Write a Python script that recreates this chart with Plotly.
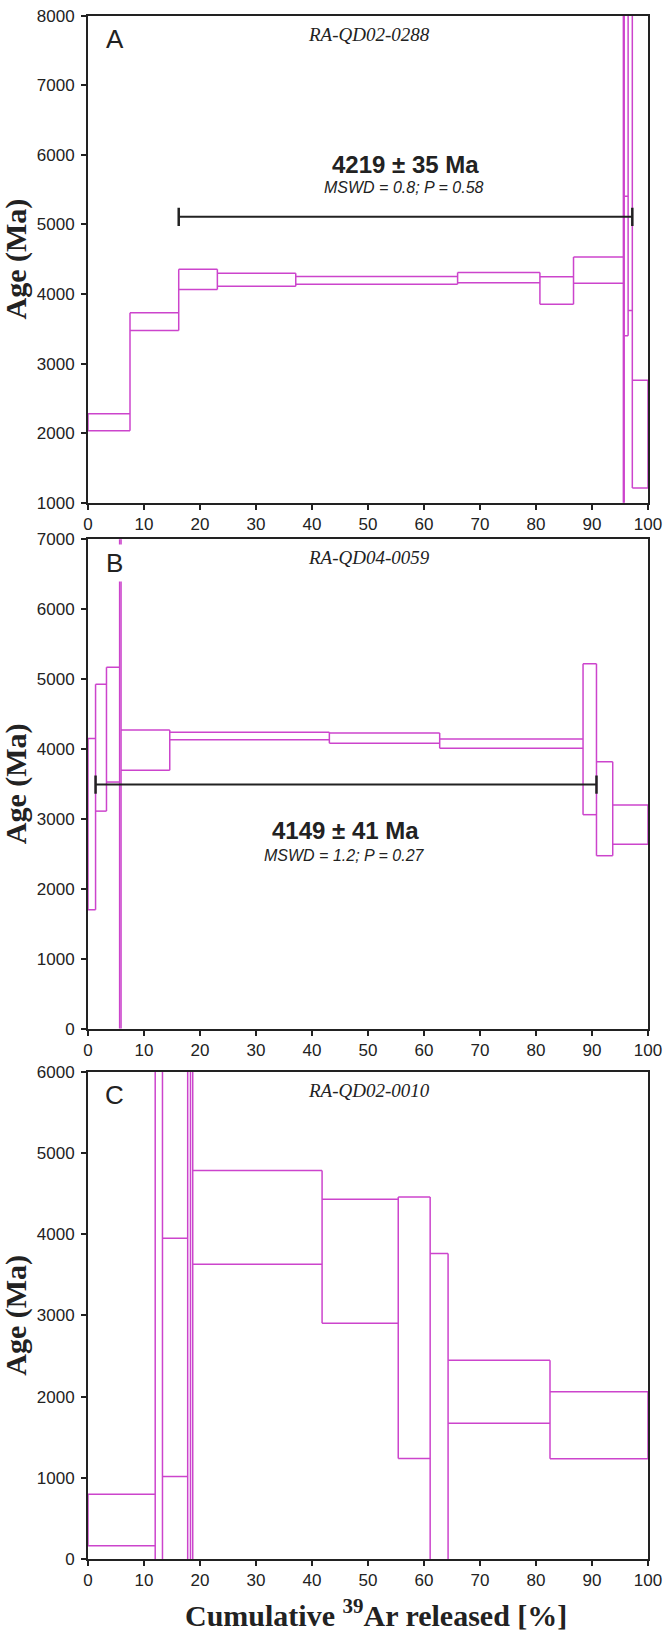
import plotly.graph_objects as go

# ---------------- data ----------------
# Panel A: RA-QD02-0288  (step boundaries in cumulative 39Ar %, ages in Ma)
a_edges = [0, 7.5, 16.2, 23.1, 37.1, 66.0, 80.7, 86.7, 95.6, 95.75, 96.45, 97.2, 100]
a_lo = [2035, 3475, 4067, 4114, 4143, 4162, 3855, 4157, 500, 3400, 3763, 1214]
a_hi = [2280, 3730, 4357, 4300, 4252, 4310, 4248, 4533, 9000, 5406, 9000, 2763]
a_plateau_x = [16.2, 97.2]
a_plateau_y = 5110

# Panel B: RA-QD04-0059
b_edges = [0, 1.35, 3.3, 5.65, 5.9, 14.6, 43.1, 62.8, 88.4, 90.8, 93.7, 100]
b_lo = [1700, 3111, 3527, -500, 3696, 4133, 4081, 4012, 3060, 2473, 2637]
b_hi = [4150, 4927, 5168, 8000, 4270, 4238, 4229, 4142, 5219, 3818, 3200]
b_plateau_x = [1.35, 90.8]
b_plateau_y = 3490

# Panel C: RA-QD02-0010
c_edges = [0, 12.0, 13.3, 17.8, 18.3, 18.7, 41.8, 55.4, 61.1, 64.3, 82.5, 100]
c_lo = [163, -500, 1016, -500, -500, 3630, 2903, 1239, -500, 1671, 1235]
c_hi = [796, 7000, 3951, 7000, 7000, 4785, 4430, 4458, 3764, 2447, 2059]

x_ticks = [0, 10, 20, 30, 40, 50, 60, 70, 80, 90, 100]
y_ranges = [[1000, 8000], [0, 7000], [0, 6000]]
panel_letters = ["A", "B", "C"]
sample_names = ["RA-QD02-0288", "RA-QD04-0059", "RA-QD02-0010"]
plateau_ages = ["4219 ± 35 Ma", "4149 ± 41 Ma"]
plateau_stats = ["MSWD = 0.8; P = 0.58", "MSWD = 1.2; P = 0.27"]

# ---------------- layout helpers ----------------
W, H = 668, 1630
ML, MR, MT, MB = 88, 18, 6, 70
PW = W - ML - MR
PH = H - MT - MB


def px(xpix):
    return (xpix - ML) / PW


def py(ypix):
    return 1 - (ypix - MT) / PH


panel_pix = [(6.7, 496.7), (533.3, 1025.5), (1069.0, 1559.0)]

MAG = "#CC44CC"
INK = "#222222"
SANS = "Liberation Sans, Arial, sans-serif"
SERIF = "Liberation Serif, Times New Roman, serif"


def step_path(edges, lo, hi):
    xs, ys = [], []
    n = len(lo)
    for i in range(n):
        for v in (hi[i], lo[i]):
            xs += [edges[i], edges[i + 1], None]
            ys += [v, v, None]
    for j in range(n + 1):
        adj = [k for k in (j - 1, j) if 0 <= k < n]
        y0 = min(lo[k] for k in adj)
        y1 = max(hi[k] for k in adj)
        xs += [edges[j], edges[j], None]
        ys += [y0, y1, None]
    return xs, ys


fig = go.Figure()
data = [(a_edges, a_lo, a_hi), (b_edges, b_lo, b_hi), (c_edges, c_lo, c_hi)]
plateaus = [(a_plateau_x, a_plateau_y), (b_plateau_x, b_plateau_y)]

for i, (e, lo, hi) in enumerate(data):
    xa = "x" if i == 0 else f"x{i+1}"
    ya = "y" if i == 0 else f"y{i+1}"
    xs, ys = step_path(e, lo, hi)
    fig.add_trace(go.Scatter(x=xs, y=ys, mode="lines", xaxis=xa, yaxis=ya,
                             line=dict(color=MAG, width=1.5), showlegend=False,
                             hoverinfo="skip"))
    if i < 2:
        pxv, pyv = plateaus[i]
        fig.add_trace(go.Scatter(x=pxv, y=[pyv, pyv], mode="lines+markers",
                                 xaxis=xa, yaxis=ya,
                                 line=dict(color=INK, width=2),
                                 marker=dict(symbol="line-ns", size=13,
                                             line=dict(color=INK, width=2.5)),
                                 showlegend=False, hoverinfo="skip"))

layout = dict(width=W, height=H, margin=dict(l=ML, r=MR, t=MT, b=MB),
              plot_bgcolor="white", paper_bgcolor="white", showlegend=False)

annotations = []
for i in range(3):
    top, bot = panel_pix[i]
    suffix = "" if i == 0 else str(i + 1)
    layout["xaxis" + suffix] = dict(
        domain=[0, 1], range=[0, 100], anchor="y" + suffix,
        tickvals=x_ticks, ticks="outside", ticklen=5, tickwidth=1.5, tickcolor=INK,
        showline=True, linecolor=INK, linewidth=2, mirror=True,
        showgrid=False, zeroline=False,
        tickfont=dict(family=SANS, size=17, color=INK))
    layout["yaxis" + suffix] = dict(
        domain=[py(bot), py(top)], range=y_ranges[i], anchor="x" + suffix,
        dtick=1000, ticks="outside", ticklen=5, tickwidth=1.5, tickcolor=INK,
        showline=True, linecolor=INK, linewidth=2, mirror=True,
        showgrid=False, zeroline=False, ticklabelstandoff=3,
        tickfont=dict(family=SANS, size=17, color=INK))
    # y-axis title
    annotations.append(dict(text="<b>Age (Ma)</b>", xref="paper", yref="paper",
                            x=px(16), y=py((top + bot) / 2), textangle=-90,
                            showarrow=False, xanchor="center", yanchor="middle",
                            font=dict(family=SERIF, size=30, color=INK)))
    # panel letter
    annotations.append(dict(text=panel_letters[i], xref="paper", yref="paper",
                            x=px(115), y=py(top + 23.5), showarrow=False,
                            xanchor="center", yanchor="middle", bgcolor="white",
                            borderpad=3,
                            font=dict(family=SANS, size=26, color=INK)))
    # sample name
    annotations.append(dict(text="<i>" + sample_names[i] + "</i>", xref="paper",
                            yref="paper", x=px(370), y=py(top + 18.5),
                            showarrow=False, xanchor="center", yanchor="middle",
                            font=dict(family=SERIF, size=19, color=INK)))

age_pos = [((407, 156), (405.6, 180)), ((346, 826.7), (345, 851))]
for i in range(2):
    (ax, ay), (sx, sy) = age_pos[i]
    annotations.append(dict(text="<b>" + plateau_ages[i] + "</b>", xref="paper",
                            yref="paper", x=px(ax), y=py(ay), showarrow=False,
                            xanchor="center", yanchor="middle",
                            font=dict(family=SANS, size=24, color=INK)))
    annotations.append(dict(text="<i>" + plateau_stats[i] + "</i>", xref="paper",
                            yref="paper", x=px(sx), y=py(sy), showarrow=False,
                            xanchor="center", yanchor="middle",
                            font=dict(family=SANS, size=16, color=INK)))

annotations.append(dict(text="<b>Cumulative <sup>39</sup>Ar released [%]</b>",
                        xref="paper", yref="paper", x=px(377), y=py(1613),
                        showarrow=False, xanchor="center", yanchor="middle",
                        font=dict(family=SERIF, size=30, color=INK)))

layout["annotations"] = annotations
fig.update_layout(**layout)
fig.write_html("out.html", config={"displayModeBar": False},
               post_script="document.body.style.margin='0px';document.body.style.overflow='hidden';")
